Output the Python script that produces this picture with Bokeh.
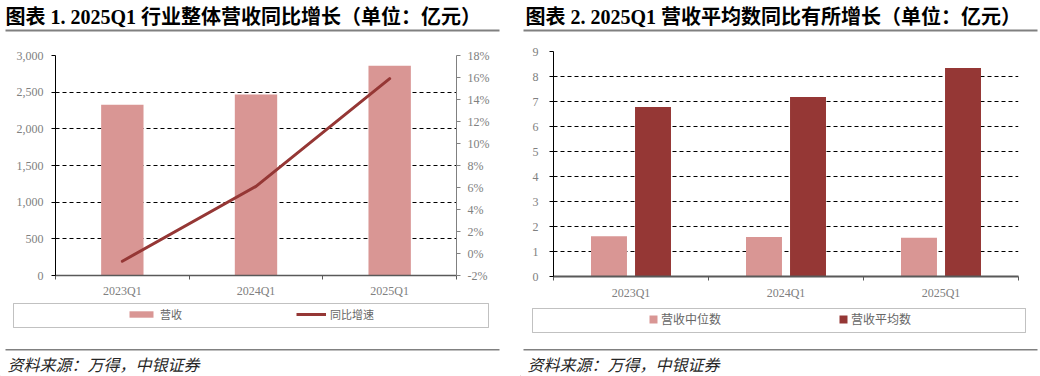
import numpy as np
from bokeh.plotting import figure
from bokeh.models import (Range1d, LinearAxis, FixedTicker, NumeralTickFormatter,
                          PrintfTickFormatter, Label, BoxAnnotation, Legend, LegendItem)
from bokeh.layouts import row, column
from bokeh.embed import file_html
from bokeh.resources import INLINE

# ---------------- data ----------------
quarters = ["2023Q1", "2024Q1", "2025Q1"]
revenue = [2327, 2468, 2859]            # 营收（亿元）
yoy_growth = [-0.7, 6.1, 15.9]          # 同比增速（%）
median_rev = [1.61, 1.58, 1.55]         # 营收中位数（亿元）
mean_rev = [6.78, 7.18, 8.34]           # 营收平均数（亿元）

title1 = "图表 1. 2025Q1 行业整体营收同比增长（单位：亿元）"
title2 = "图表 2. 2025Q1 营收平均数同比有所增长（单位：亿元）"
source_text = "资料来源：万得，中银证券"
legend1_labels = ["营收", "同比增速"]
legend2_labels = ["营收中位数", "营收平均数"]

LIGHT = "#D99694"
DARK = "#953735"
TICK_GRAY = "#808080"
SERIF = "Liberation Serif"
CJK = "Noto Sans CJK SC"
MIX = "Liberation Serif, Noto Sans CJK SC"
W = 520
TOP_H = 34

xs = np.arange(len(quarters)) + 0.5
labels_map = {float(x): q for x, q in zip(xs, quarters)}


def style_xaxis(ax):
    ax.ticker = FixedTicker(ticks=list(xs), minor_ticks=list(range(len(quarters) + 1)))
    ax.major_label_overrides = labels_map
    ax.major_tick_out = 0
    ax.major_tick_in = 0
    ax.minor_tick_out = 4
    ax.minor_tick_in = 0
    ax.minor_tick_line_color = "#595959"
    ax.axis_line_color = "#595959"
    ax.axis_line_width = 1.5
    ax.major_label_text_font = SERIF
    ax.major_label_text_font_size = "12px"
    ax.major_label_text_color = TICK_GRAY
    ax.major_label_standoff = 4


def style_yaxis(ax, line_color):
    ax.axis_line_color = line_color
    ax.major_tick_line_color = line_color
    ax.major_tick_out = 4
    ax.major_tick_in = 0
    ax.minor_tick_line_color = None
    ax.major_label_text_font = SERIF
    ax.major_label_text_font_size = "12px"
    ax.major_label_text_color = TICK_GRAY


def aux_figure(h):
    """A figure whose frame is the whole canvas; data units = pixels."""
    f = figure(width=W, height=h, x_range=Range1d(0, W), y_range=Range1d(0, h),
               x_axis_type=None, y_axis_type=None, output_backend="svg",
               toolbar_location=None, min_border=0, outline_line_color=None,
               frame_align=False)
    f.xgrid.visible = False
    f.ygrid.visible = False
    return f


def add_label(f, h, cx, cy, text, **kw):
    f.add_layout(Label(x=cx, y=h - cy, text=text, text_baseline="middle",
                       text_align="left", **kw))


def add_box(f, h, x0, x1, y0, y1, **kw):
    f.add_layout(BoxAnnotation(left=x0, right=x1, top=h - y0, bottom=h - y1, **kw))


def top_panel(title, rule_x0, rule_x1):
    f = aux_figure(TOP_H)
    add_label(f, TOP_H, 5, 16, title, text_font=MIX, text_font_size="20px",
              text_font_style="bold", text_color="black")
    add_box(f, TOP_H, rule_x0, rule_x1, 29, 31, fill_color="#808080", fill_alpha=1,
            line_color=None)
    return f


def bottom_panel(h, y_off, box, rule, items, item_x, glyph_w, glyph_h, standoff, spacing,
                 font_size):
    f = aux_figure(h)
    x0, x1, y0, y1 = box
    add_box(f, h, x0, x1, y0 - y_off, y1 - y_off, fill_alpha=0, line_color="#333333",
            line_width=1)
    add_box(f, h, rule[0], rule[1], 348.5 - y_off, 350 - y_off, fill_color="#808080",
            fill_alpha=1, line_color=None)
    add_label(f, h, 7, 363 - y_off, source_text, text_font=CJK, text_font_size="16px",
              text_font_style="italic", text_color="#262626")
    legend_items = []
    for label, kind, color in items:
        # legend proxies: one mark placed outside this panel's visible range
        if kind == "bar":
            r = f.vbar(x=[-100], top=[1], width=1, fill_color=color, line_color=None)
        else:
            r = f.line(x=[-100, -90], y=[1, 1], line_color=color, line_width=3)
        legend_items.append(LegendItem(label=label, renderers=[r]))
    mid = (y0 + y1) / 2 - y_off
    item_h = 14
    # legend location = bottom-left corner, measured from the frame's bottom-left
    leg = Legend(items=legend_items, orientation="horizontal",
                 location=(item_x, h - (mid + item_h / 2)),
                 glyph_width=glyph_w, glyph_height=glyph_h, label_standoff=standoff,
                 spacing=spacing, padding=0, margin=0, border_line_color=None,
                 background_fill_alpha=0, label_text_font=CJK,
                 label_text_font_size=font_size, label_text_color="#666666",
                 label_height=item_h)
    f.add_layout(leg)
    return f


# ---------------- chart 1 ----------------
p1 = figure(width=W, height=266, x_range=Range1d(0, 3), y_range=Range1d(0, 3000),
            output_backend="svg", toolbar_location=None,
            min_border_left=55, min_border_right=64, min_border_top=21, min_border_bottom=25,
            outline_line_color=None, frame_align=False)
p1.extra_y_ranges = {"pct": Range1d(-2, 18)}

style_xaxis(p1.xaxis[0])
style_yaxis(p1.yaxis[0], "black")
p1.yaxis[0].ticker = FixedTicker(ticks=list(range(0, 3001, 500)))
p1.yaxis[0].formatter = NumeralTickFormatter(format="0,0")
p1.yaxis[0].major_label_standoff = 8

rax = LinearAxis(y_range_name="pct", ticker=FixedTicker(ticks=list(range(-2, 19, 2))),
                 formatter=PrintfTickFormatter(format="%d%%"))
style_yaxis(rax, "#808080")
rax.major_label_standoff = 7
p1.add_layout(rax, "right")

p1.xgrid.visible = False
p1.ygrid.ticker = FixedTicker(ticks=list(range(500, 3001, 500)))
p1.ygrid.grid_line_color = "black"
p1.ygrid.grid_line_dash = "4 3"
p1.ygrid.grid_line_width = 1

p1.vbar(x=xs, top=revenue, width=0.317, fill_color=LIGHT, line_color=None)
p1.line(x=xs, y=yoy_growth, y_range_name="pct", line_color=DARK, line_width=3,
        line_cap="round", line_join="round")

top1 = top_panel(title1, 5, 499)
bot1 = bottom_panel(76, 300, (13, 488, 303, 327), (5, 499),
                    [(legend1_labels[0], "bar", LIGHT), (legend1_labels[1], "line", DARK)],
                    item_x=126, glyph_w=30, glyph_h=8, standoff=4, spacing=114,
                    font_size="11px")

# ---------------- chart 2 ----------------
p2 = figure(width=W, height=268, x_range=Range1d(0, 3), y_range=Range1d(0, 9),
            output_backend="svg", toolbar_location=None,
            min_border_left=33, min_border_right=22, min_border_top=17, min_border_bottom=23,
            outline_line_color=None, frame_align=False)

style_xaxis(p2.xaxis[0])
p2.xaxis[0].axis_line_width = 2
p2.xaxis[0].major_label_standoff = 5
style_yaxis(p2.yaxis[0], "black")
p2.yaxis[0].ticker = FixedTicker(ticks=list(range(0, 10)))
p2.yaxis[0].major_label_standoff = 11

p2.xgrid.visible = False
p2.ygrid.ticker = FixedTicker(ticks=list(range(1, 10)))
p2.ygrid.grid_line_color = "black"
p2.ygrid.grid_line_dash = "4 3"
p2.ygrid.grid_line_width = 1

p2.vbar(x=xs - 0.142, top=median_rev, width=0.232, fill_color=LIGHT, line_color=None)
p2.vbar(x=xs + 0.142, top=mean_rev, width=0.232, fill_color=DARK, line_color=None)

top2 = top_panel(title2, 3, 517)
bot2 = bottom_panel(74, 302, (12, 505, 308, 332), (3, 517),
                    [(legend2_labels[0], "bar", LIGHT), (legend2_labels[1], "bar", DARK)],
                    item_x=128, glyph_w=10, glyph_h=10, standoff=3, spacing=117,
                    font_size="12px")

layout = row(column(top1, p1, bot1), column(top2, p2, bot2))
open("out.html", "w").write(file_html(layout, INLINE))
